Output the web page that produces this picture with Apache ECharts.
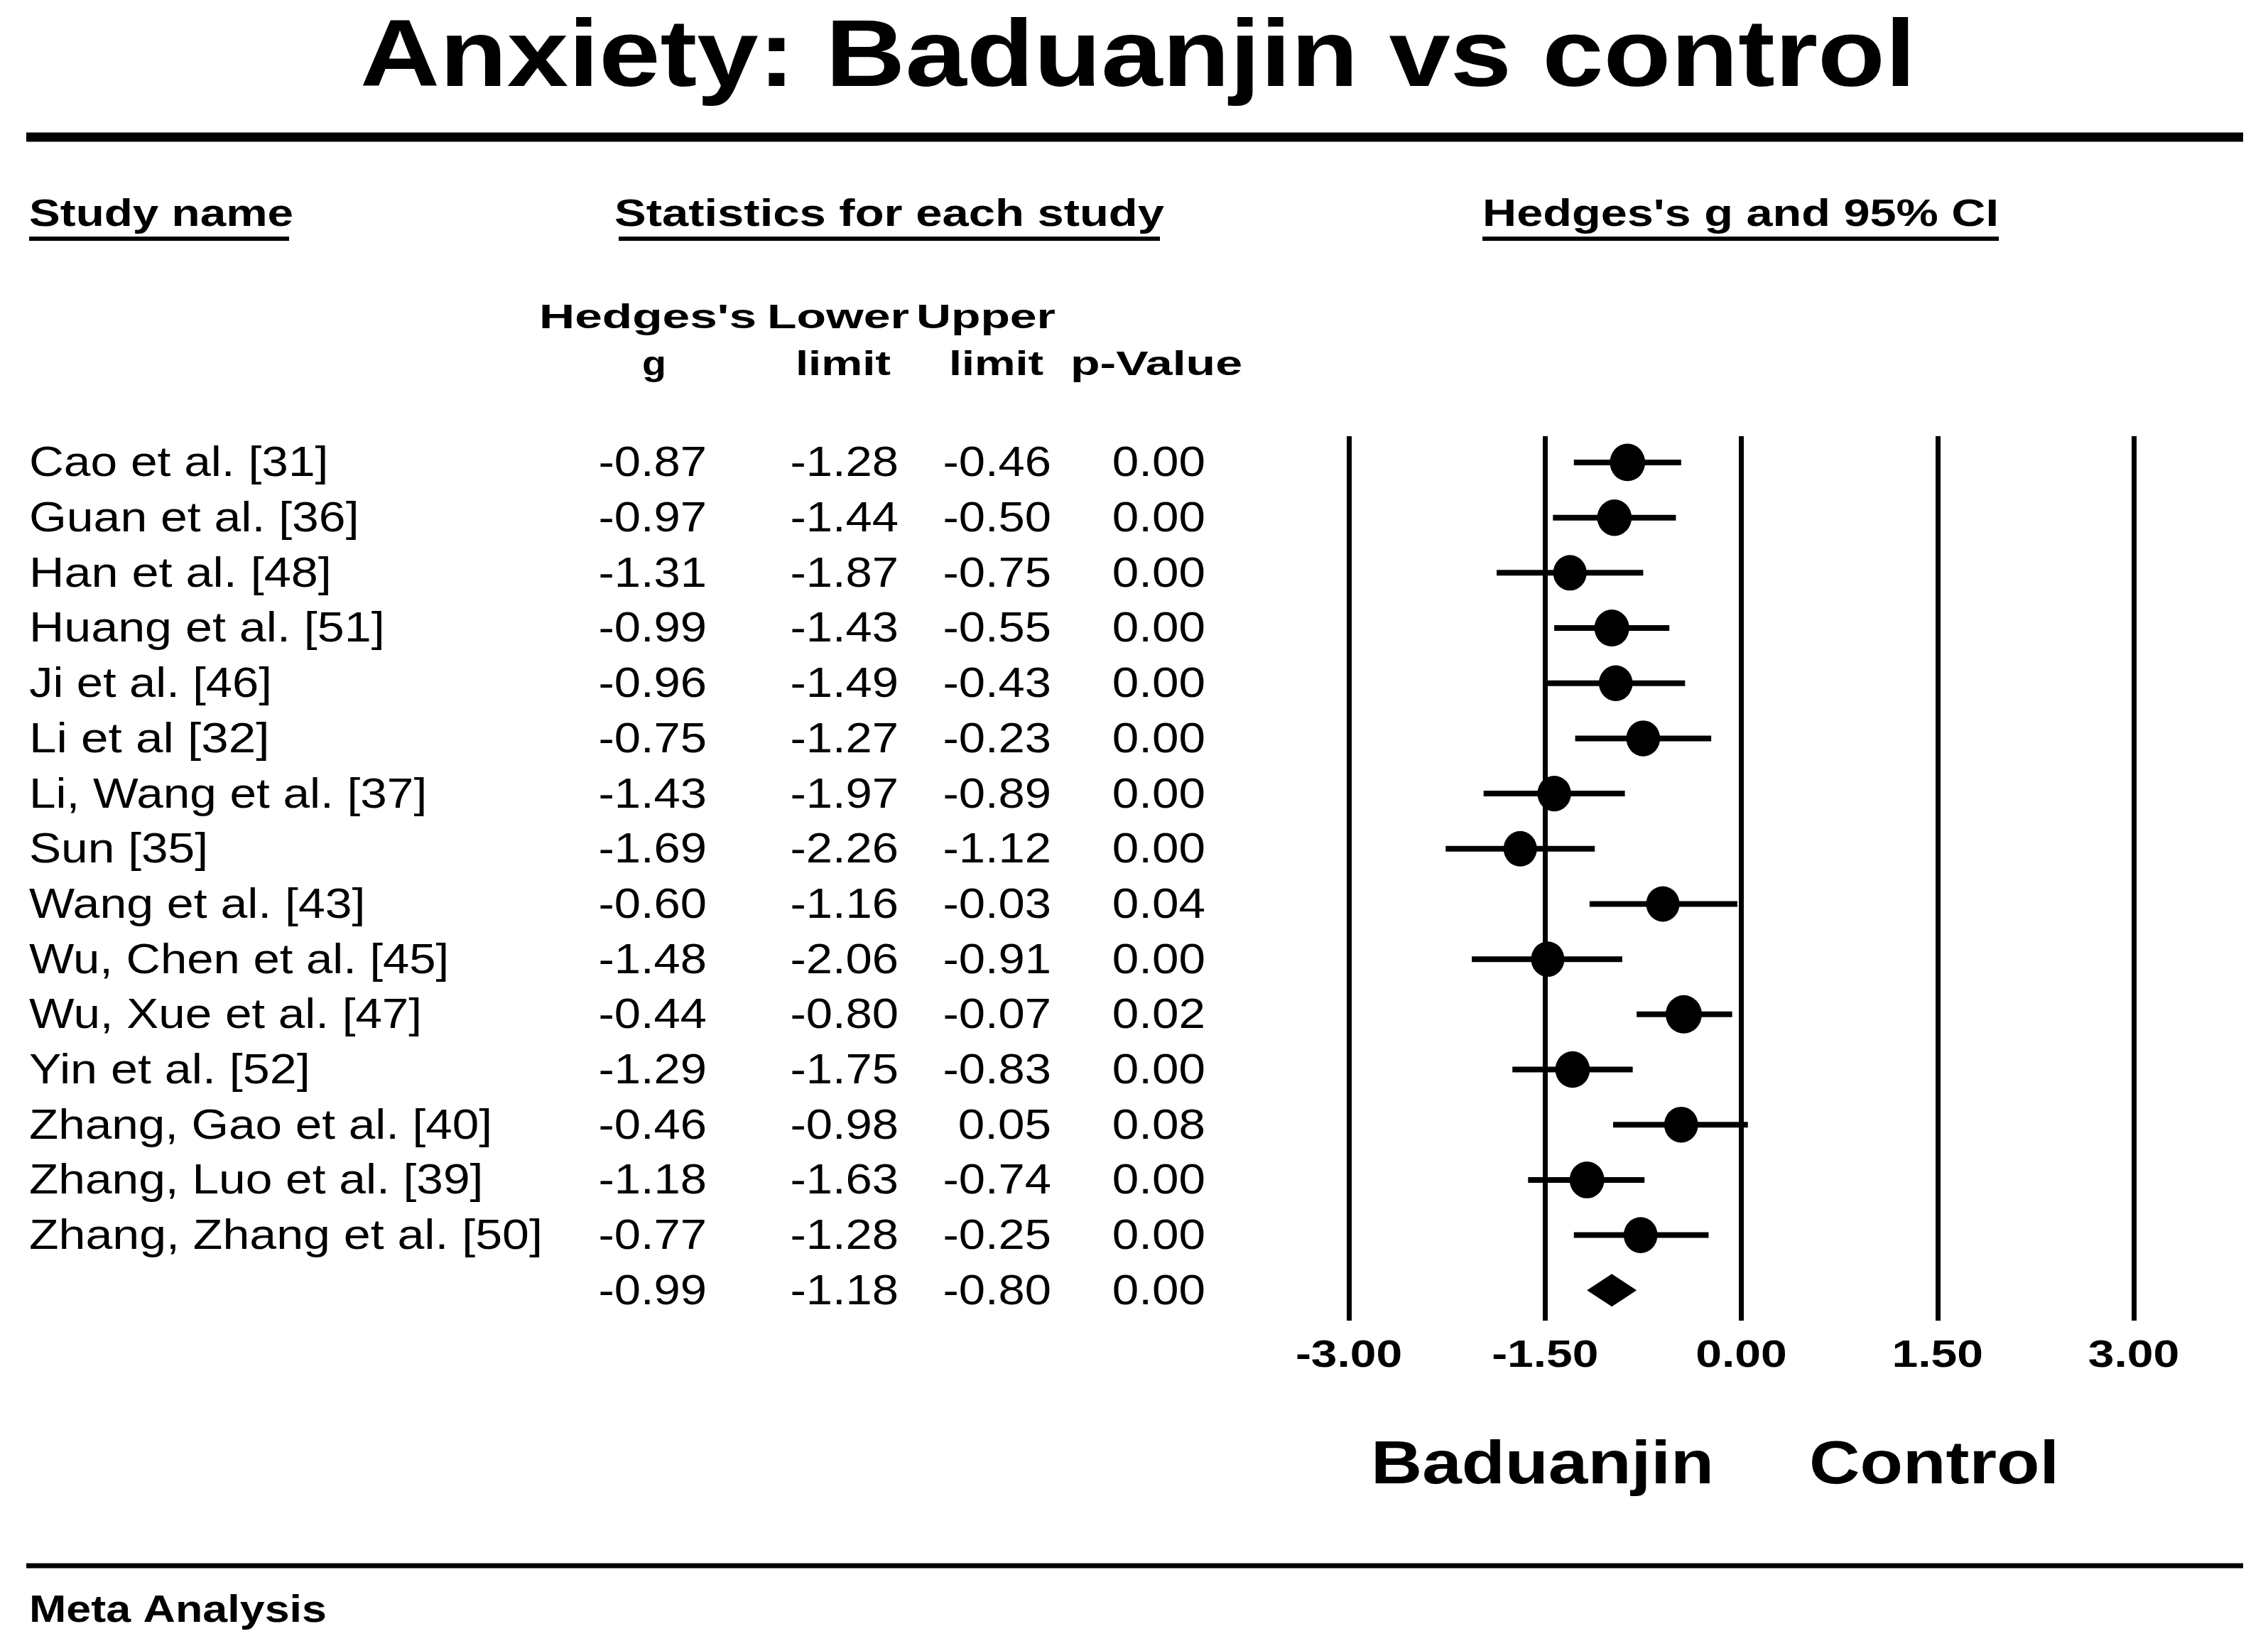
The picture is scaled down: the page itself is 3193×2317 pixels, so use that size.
<!DOCTYPE html>
<html>
<head>
<meta charset="utf-8">
<script src="https://cdn.jsdelivr.net/npm/echarts@6/dist/echarts.min.js"></script>
<style>
html,body{margin:0;padding:0;background:#fff;}
#chart{width:3193px;height:2317px;}
</style>
</head>
<body>
<div id="chart"></div>
<script>
// ---------------- data ----------------
const studies = [
  'Cao et al. [31]', 'Guan et al. [36]', 'Han et al. [48]', 'Huang et al. [51]',
  'Ji et al. [46]', 'Li et al [32]', 'Li, Wang et al. [37]', 'Sun [35]',
  'Wang et al. [43]', 'Wu, Chen et al. [45]', 'Wu, Xue et al. [47]', 'Yin et al. [52]',
  'Zhang, Gao et al. [40]', 'Zhang, Luo et al. [39]', 'Zhang, Zhang et al. [50]'
];
const hedgesG    = [-0.87, -0.97, -1.31, -0.99, -0.96, -0.75, -1.43, -1.69, -0.60, -1.48, -0.44, -1.29, -0.46, -1.18, -0.77];
const lowerLimit = [-1.28, -1.44, -1.87, -1.43, -1.49, -1.27, -1.97, -2.26, -1.16, -2.06, -0.80, -1.75, -0.98, -1.63, -1.28];
const upperLimit = [-0.46, -0.50, -0.75, -0.55, -0.43, -0.23, -0.89, -1.12, -0.03, -0.91, -0.07, -0.83,  0.05, -0.74, -0.25];
const pValues    = [ 0.00,  0.00,  0.00,  0.00,  0.00,  0.00,  0.00,  0.00,  0.04,  0.00,  0.02,  0.00,  0.08,  0.00,  0.00];
const summaryRow = [-0.99, -1.18, -0.80, 0.00]; // g, lower, upper, p
const xTicks = [-3.00, -1.50, 0.00, 1.50, 3.00];
const titleText = 'Anxiety: Baduanjin vs control';
const sectionHeaders = ['Study name', 'Statistics for each study', "Hedges's g and 95% CI"];
const colHeaderRow1 = ["Hedges's", 'Lower', 'Upper'];
const colHeaderRow2 = ['g', 'limit', 'limit', 'p-Value'];
const favourLabels = ['Baduanjin', 'Control'];
const footerText = 'Meta Analysis';

// ---------------- layout / style ----------------
const FONT = 'Liberation Sans';
const REF_FONT = 'DejaVu Sans';
const CAP = 0.716;      // cap height ratio of Liberation Sans
const REF_CAP = 0.729;  // cap height ratio of DejaVu Sans
const summaryIndex = studies.length;
const nRows = studies.length + 1;
const fmt = v => v.toFixed(2);

const mctx = document.createElement('canvas').getContext('2d');
function tw(str, family, size, weight) {
  mctx.font = (weight || 'normal') + ' ' + size + 'px "' + family + '"';
  return mctx.measureText(str).width;
}
// Arial-like text, stretched horizontally to the reference width
function stretchText(str, x, capCenter, capH, weight, align, targetW) {
  const size = capH / CAP;
  const w = tw(str, FONT, size, weight);
  const target = targetW || tw(str, REF_FONT, capH / REF_CAP, weight);
  return {
    type: 'text', x: x, y: capCenter + 0.048 * size, scaleX: target / w, silent: true,
    style: { text: str, x: 0, y: 0, fontFamily: FONT, fontSize: size, fontWeight: weight || 'normal',
             fill: '#000', align: align || 'left', verticalAlign: 'middle' }
  };
}
function span(str, x0, x1, capCenter, capH, weight) {
  return stretchText(str, (x0 + x1) / 2, capCenter, capH, weight, 'center', x1 - x0);
}
function bar(x0, x1, yc, h) {
  return { type: 'rect', silent: true, shape: { x: x0, y: yc - h / 2, width: x1 - x0, height: h }, style: { fill: '#000' } };
}

const graphics = [
  span(titleText, 507, 2697, 78, 95, 'bold'),
  bar(37, 3158, 193, 13),
  span(sectionHeaders[0], 41, 413, 300, 39, 'bold'),
  span(sectionHeaders[1], 865, 1639, 300, 39, 'bold'),
  span(sectionHeaders[2], 2087, 2814, 300, 39, 'bold'),
  bar(41, 407, 336, 6),
  bar(871, 1633, 336, 6),
  bar(2087, 2814, 336, 6),
  span(colHeaderRow1[0], 759, 1065, 446, 35, 'bold'),
  span(colHeaderRow1[1], 1080, 1280, 446, 35, 'bold'),
  span(colHeaderRow1[2], 1290, 1486, 446, 35, 'bold'),
  span(colHeaderRow2[0], 904, 938, 512, 35, 'bold'),
  span(colHeaderRow2[1], 1120, 1254, 512, 35, 'bold'),
  span(colHeaderRow2[2], 1336, 1469, 512, 35, 'bold'),
  span(colHeaderRow2[3], 1507, 1749, 512, 35, 'bold'),
  span(favourLabels[0], 1930, 2413, 2060, 61, 'bold'),
  span(favourLabels[1], 2547, 2899, 2060, 61, 'bold'),
  bar(37, 3158, 2204, 7),
  span(footerText, 41, 460, 2266, 38, 'bold')
];

// ---------------- series data ----------------
const ciData = studies.map((s, i) => [lowerLimit[i], upperLimit[i], i]);
const pointData = studies.map((s, i) => [hedgesG[i], i, lowerLimit[i], upperLimit[i]]);
const diamondData = [[summaryRow[1], summaryRow[0], summaryRow[2], summaryIndex]];
const tableData = [];
for (let i = 0; i < nRows; i++) tableData.push([0, i]);
const tickData = xTicks.map(v => [v]);

const colRight = [995, 1265, 1480, 1697];
const bodyCap = 43;
const Y_MIN = -0.476, Y_MAX = 15.55;

const option = {
  animation: false,
  backgroundColor: '#fff',
  graphic: graphics,
  grid: { left: 1899, right: 189, top: 614, height: 1245, containLabel: false },
  xAxis: {
    type: 'value',
    min: xTicks[0], max: xTicks[xTicks.length - 1], interval: xTicks[1] - xTicks[0],
    axisLine: { show: false }, axisTick: { show: false }, axisLabel: { show: false },
    splitLine: { show: true, lineStyle: { color: '#000', width: 7, type: 'solid' } }
  },
  yAxis: { type: 'value', inverse: true, min: Y_MIN, max: Y_MAX, show: false },
  series: [
    {
      type: 'custom', name: 'ci', clip: false, silent: true, data: ciData,
      renderItem: (params, api) => {
        const a = api.coord([api.value(0), api.value(2)]);
        const b = api.coord([api.value(1), api.value(2)]);
        return { type: 'line', shape: { x1: a[0], y1: a[1], x2: b[0], y2: b[1] },
                 style: { stroke: '#000', lineWidth: 8 } };
      }
    },
    {
      type: 'scatter', name: 'g', silent: true, data: pointData,
      encode: { x: 0, y: 1 },
      symbol: 'circle',
      symbolSize: (val) => { const d = 40 + 8 / (val[3] - val[2]); return [d, d * 1.06]; },
      itemStyle: { color: '#000', opacity: 1 }
    },
    {
      type: 'custom', name: 'summary', clip: false, silent: true, data: diamondData,
      renderItem: (params, api) => {
        const l = api.coord([api.value(0), api.value(3)]);
        const m = api.coord([api.value(1), api.value(3)]);
        const r = api.coord([api.value(2), api.value(3)]);
        const h = 23;
        return { type: 'polygon', shape: { points: [[l[0], l[1]], [m[0], m[1] - h], [r[0], r[1]], [m[0], m[1] + h]] },
                 style: { fill: '#000' } };
      }
    },
    {
      type: 'custom', name: 'table', clip: false, silent: true, data: tableData,
      renderItem: (params, api) => {
        const i = params.dataIndex;
        const y = api.coord([0, i])[1];
        const isSum = i === summaryIndex;
        const vals = isSum ? summaryRow : [hedgesG[i], lowerLimit[i], upperLimit[i], pValues[i]];
        const children = [];
        if (!isSum) children.push(stretchText(studies[i], 41, y, bodyCap, 'normal', 'left'));
        for (let c = 0; c < 4; c++) children.push(stretchText(fmt(vals[c]), colRight[c], y, bodyCap, 'normal', 'right'));
        return { type: 'group', children: children };
      }
    },
    {
      type: 'custom', name: 'ticks', clip: false, silent: true, data: tickData,
      renderItem: (params, api) => {
        const x = api.coord([api.value(0), Y_MAX])[0];
        return stretchText(fmt(api.value(0)), x, 1907, 38, 'bold', 'center');
      }
    }
  ]
};

const chart = echarts.init(document.getElementById('chart'), null, { renderer: 'canvas' });
chart.setOption(option);
</script>
</body>
</html>
